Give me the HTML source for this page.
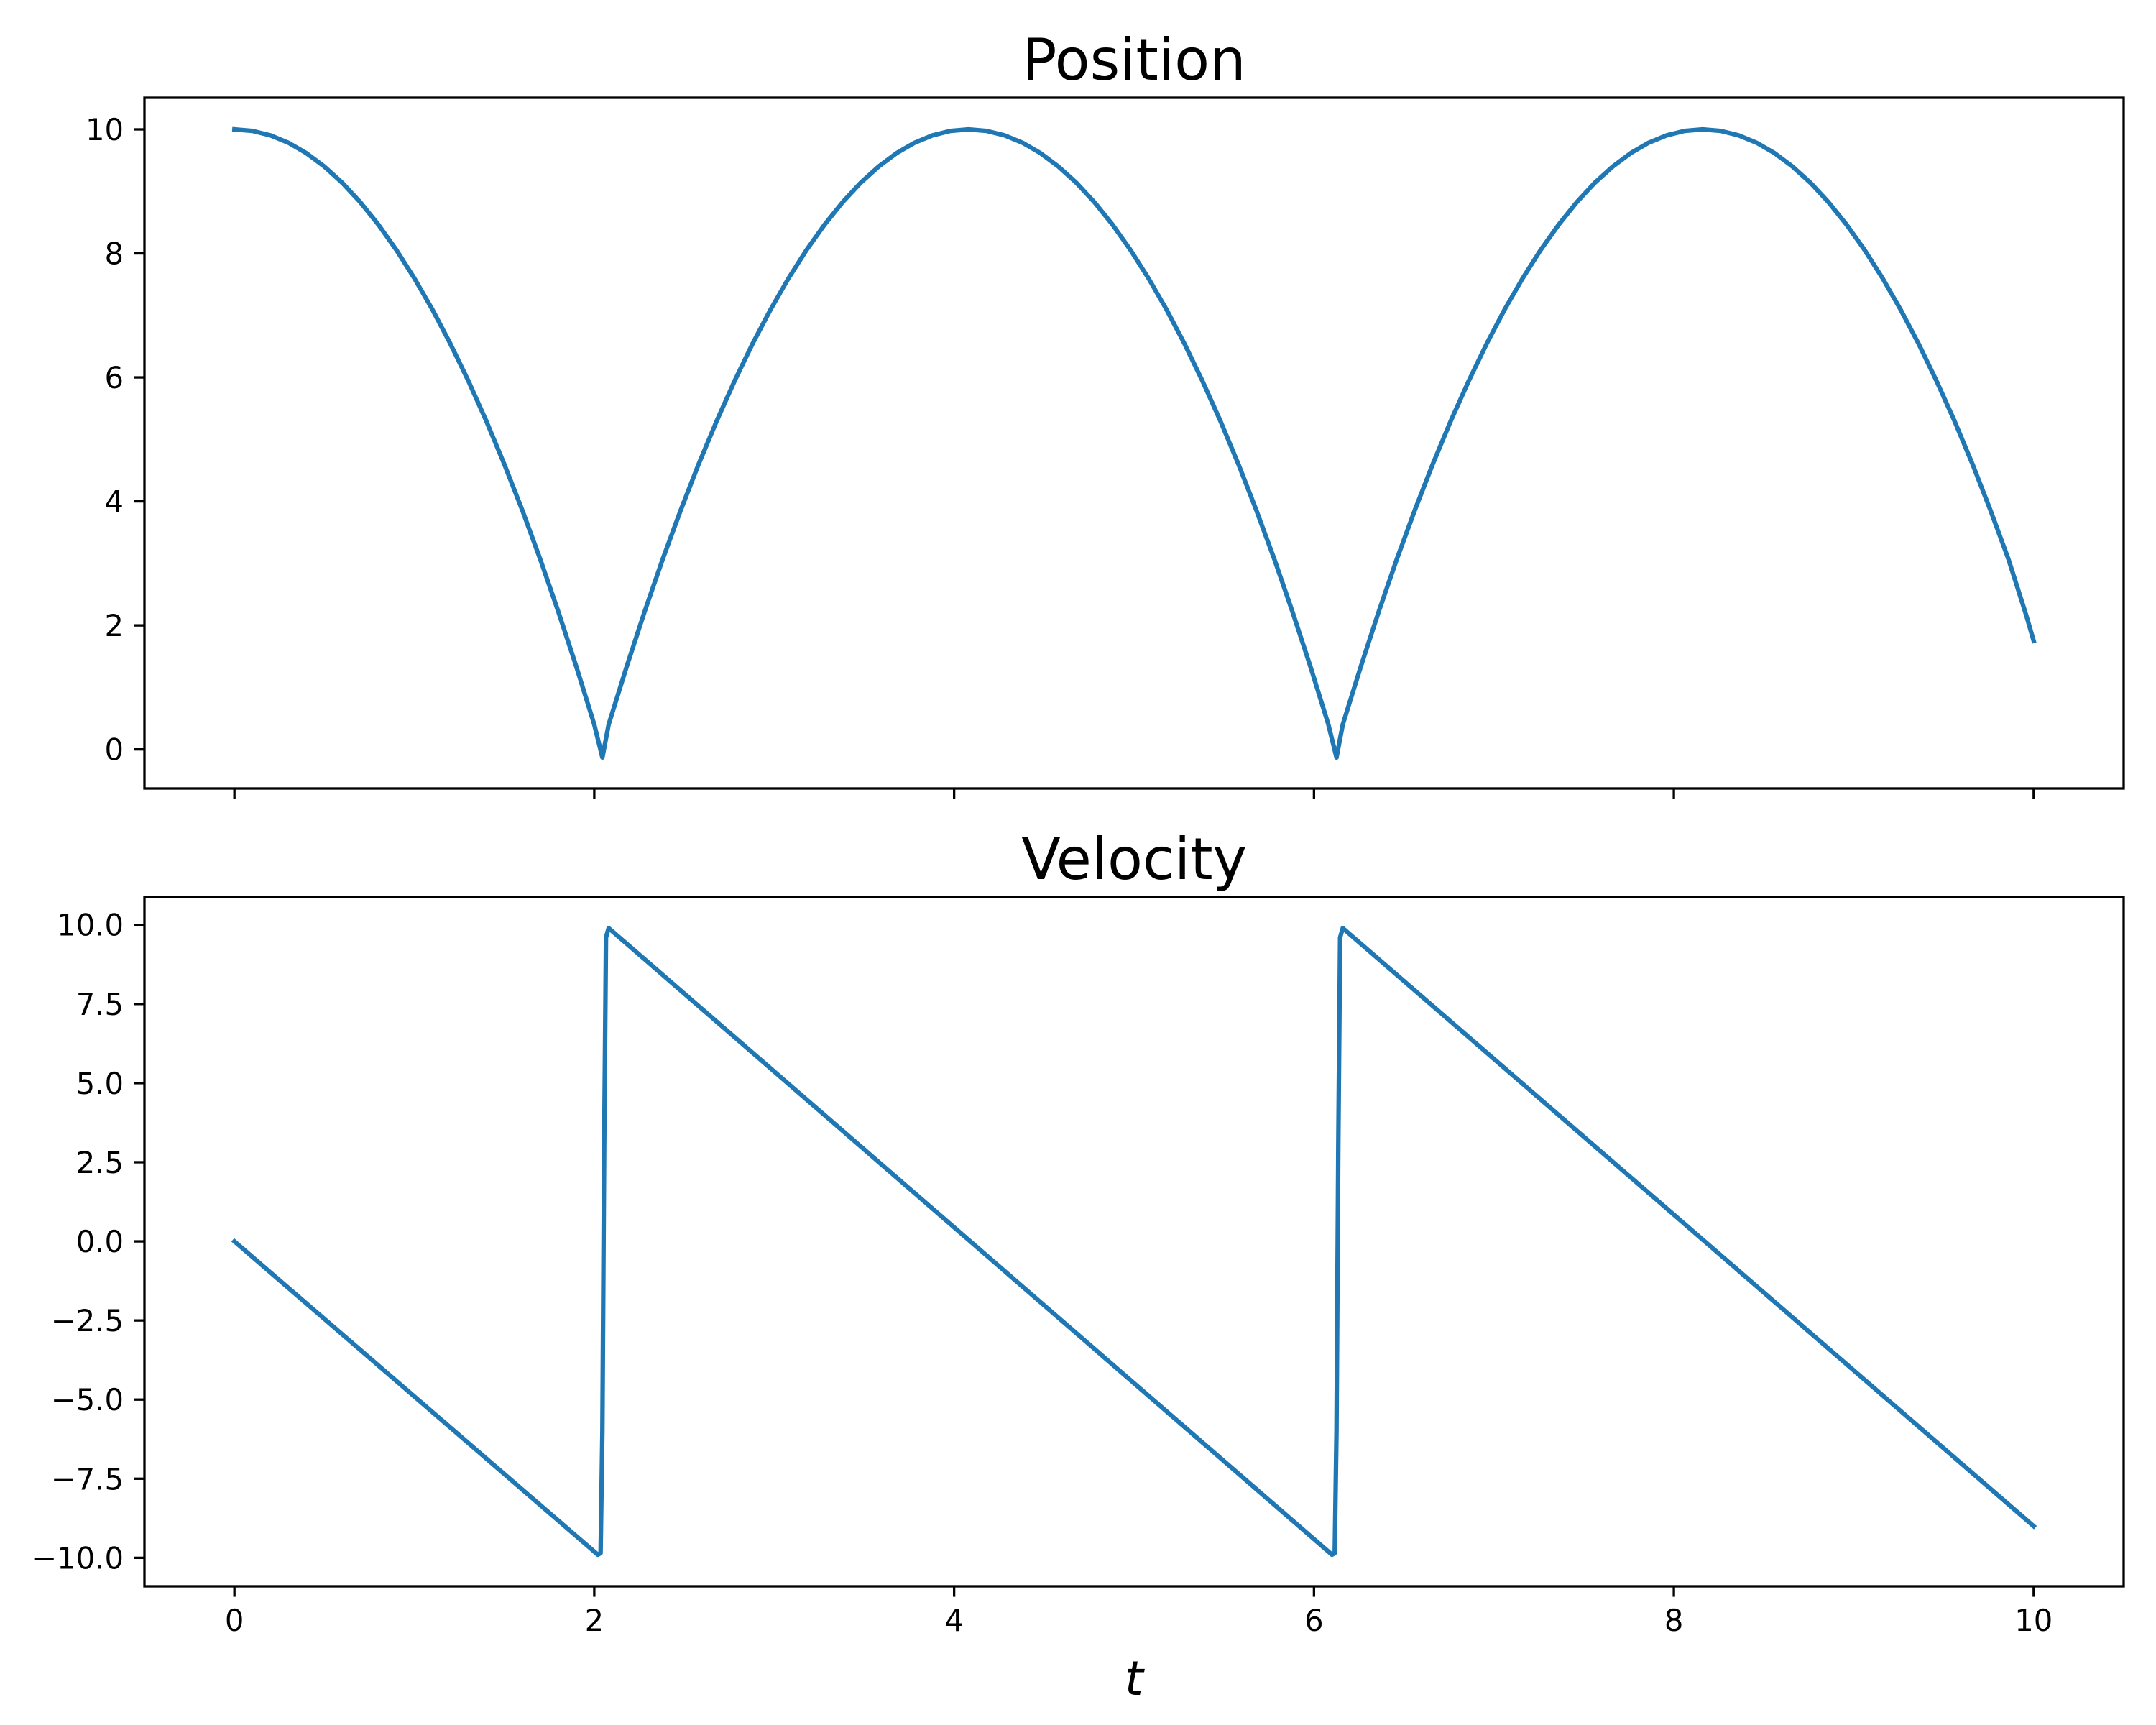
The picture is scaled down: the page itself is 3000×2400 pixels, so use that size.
<!DOCTYPE html>
<html><head><meta charset="utf-8"><style>
body{margin:0;background:#fff}
svg{display:block}
text{font-family:"DejaVu Sans","Liberation Sans",sans-serif;fill:#000}
</style></head><body>
<svg id="fig" width="3000" height="2400" viewBox="0 0 3000 2400" xmlns="http://www.w3.org/2000/svg"></svg>
<script>
// ---- data ----
const posT = [0,0.1,0.2,0.3,0.4,0.5,0.6,0.7,0.8,0.9,1.0,1.1,1.2,1.3,1.4,1.5,1.6,1.7,1.8,1.9,2.0,2.045,
 2.08,2.18,2.28,2.38,2.48,2.58,2.68,2.78,2.88,2.98,3.08,3.18,3.28,3.38,3.48,3.58,3.68,3.78,3.88,3.98,4.08,
 4.18,4.28,4.38,4.48,4.58,4.68,4.78,4.88,4.98,5.08,5.18,5.28,5.38,5.48,5.58,5.68,5.78,5.88,5.98,6.08,6.125,
 6.16,6.26,6.36,6.46,6.56,6.66,6.76,6.86,6.96,7.06,7.16,7.26,7.36,7.46,7.56,7.66,7.76,7.86,7.96,8.06,8.16,
 8.26,8.36,8.46,8.56,8.66,8.76,8.86,8.96,9.06,9.16,9.26,9.36,9.46,9.56,9.66,9.76,9.86,9.96,10];
const posY = [10,9.976,9.904,9.784,9.616,9.4,9.136,8.824,8.464,8.056,7.6,7.096,6.544,5.944,5.296,4.6,3.856,3.064,2.224,1.336,0.4,-0.13,
 0.4,1.336,2.224,3.064,3.856,4.6,5.296,5.944,6.544,7.096,7.6,8.056,8.464,8.824,9.136,9.4,9.616,9.784,9.904,9.976,10,
 9.976,9.904,9.784,9.616,9.4,9.136,8.824,8.464,8.056,7.6,7.096,6.544,5.944,5.296,4.6,3.856,3.064,2.224,1.336,0.4,-0.13,
 0.4,1.336,2.224,3.064,3.856,4.6,5.296,5.944,6.544,7.096,7.6,8.056,8.464,8.824,9.136,9.4,9.616,9.784,9.904,9.976,10,
 9.976,9.904,9.784,9.616,9.4,9.136,8.824,8.464,8.056,7.6,7.096,6.544,5.944,5.296,4.6,3.856,3.064,2.15,1.75];
const velT = [0,2.02,2.035,2.045,2.055,2.065,2.08,6.1,6.115,6.125,6.135,6.145,6.16,10];
const velY = [0,-9.9,-9.85,-6,3,9.6,9.9,-9.9,-9.85,-6,3,9.6,9.9,-9.0];
const xTicks = [0,2,4,6,8,10];
const posTicks = [0,2,4,6,8,10];
const velTicks = [-10,-7.5,-5,-2.5,0,2.5,5,7.5,10];
const velTickLabels = ["\u221210.0","\u22127.5","\u22125.0","\u22122.5","0.0","2.5","5.0","7.5","10.0"];

const NS="http://www.w3.org/2000/svg";
const svg=document.getElementById('fig');
function mk(tag,attrs,parent){const e=document.createElementNS(NS,tag);for(const k in attrs)e.setAttribute(k,attrs[k]);(parent||svg).appendChild(e);return e;}
const L=201,R=2955;
const sx=t=>L+(t+0.5)/11*(R-L);
function axes(top,bot,ymin,ymax,ts,tl,yv,title,name,showX){
  const sy=v=>bot-(v-ymin)/(ymax-ymin)*(bot-top);
  const g=mk('g',{});
  
  
  const d=ts.map((t,i)=>(i?'L':'M')+sx(t).toFixed(1)+' '+sy(yv[i]).toFixed(1)).join(' ');
  const p=mk('path',{d:d,fill:'none',stroke:'#1f77b4','stroke-width':6.25,'stroke-linejoin':'round','stroke-linecap':'square'},g);
  
  
  const fr=mk('rect',{x:L,y:top,width:R-L,height:bot-top,fill:'none',stroke:'#000','stroke-width':3.3},g);
  
  
  tl.forEach((v,i)=>{
    const y=sy(v);
    mk('line',{x1:L,x2:L-14.6,y1:y,y2:y,stroke:'#000','stroke-width':3.3},g);
    const t=mk('text',{x:L-29,y:y+15,'text-anchor':'end','font-size':41.7},g);
    t.textContent=(name==='velocity')?velTickLabels[i]:String(v);
    
    
  });
  xTicks.forEach(v=>{
    const x=sx(v);
    mk('line',{x1:x,x2:x,y1:bot,y2:bot+14.6,stroke:'#000','stroke-width':3.3},g);
    if(showX){const t=mk('text',{x:x,y:bot+62,'text-anchor':'middle','font-size':41.7},g);t.textContent=String(v);
      
      }
  });
  const tt=mk('text',{x:(L+R)/2,y:top-25,'text-anchor':'middle','font-size':80},g);
  tt.textContent=title;
  
  
}
axes(136,1097,-0.63,10.51,posT,posTicks,posY,'Position','position',false);
axes(1248,2207,-10.9,10.88,velT,velTicks,velY,'Velocity','velocity',true);
const xl=mk('text',{x:(L+R)/2,y:2358,'text-anchor':'middle','font-size':66,'font-style':'italic'});
xl.textContent='t';


</script>
</body></html>
